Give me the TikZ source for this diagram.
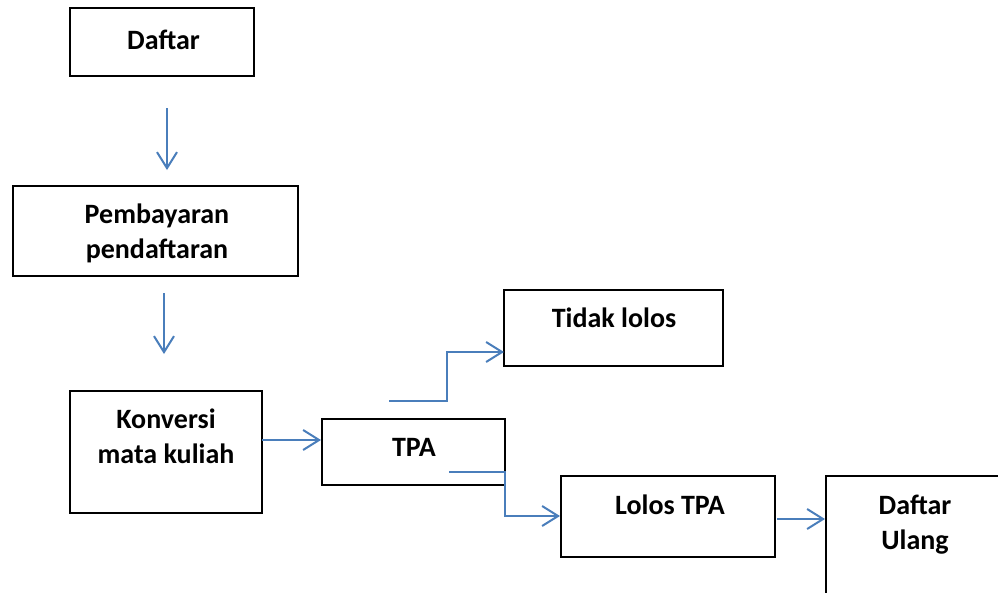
\documentclass[tikz,border=0pt]{standalone}
\usepackage{fontspec}
\setmainfont{Carlito}
\usetikzlibrary{arrows.meta}
\definecolor{linkblue}{RGB}{74,126,187}
\begin{document}
\begin{tikzpicture}[x=1pt,y=-1pt,
  box/.style={draw=black,line width=1.4pt,inner sep=0pt},
  lbl/.style={font=\fontsize{28}{35}\selectfont\bfseries,align=center,inner sep=0pt},
  flow/.style={draw=linkblue,line width=2pt,-{Straight Barb[length=16pt,width=20pt,line width=2pt]}}]
\useasboundingbox (0,0) rectangle (998,592);
\clip (0,0) rectangle (998,592);
% boxes
\draw[box] (70,8) rectangle (254,76);
\node[lbl] (daftar) at (163.5,40) {Daftar};
\draw[box] (13,186) rectangle (298,276);
\node[lbl] (bayar) at (157,233) {Pembayaran\\pendaftaran};
\draw[box] (70,391) rectangle (262,513);
\node[lbl] (konv) at (166,436) {Konversi\\mata kuliah};
\draw[box] (322,419) rectangle (505,485);
\node[lbl] (tpa) at (414,447) {TPA};
\draw[box] (504,290) rectangle (723,366);
\node[lbl] (tidak) at (614,318) {Tidak lolos};
\draw[box] (561,476) rectangle (775,557);
\node[lbl] (lolos) at (670,505) {Lolos TPA};
\draw[box] (826,610) -- (826,476) -- (1010,476);
\node[lbl] (ulang) at (915,525) {Daftar\\Ulang};
% connector coordinates
\coordinate (a1s) at (167,108); \coordinate (a1e) at (167,170);
\coordinate (a2s) at (164,293); \coordinate (a2e) at (164,354);
\coordinate (a3s) at (262,440); \coordinate (a3e) at (321,440);
\coordinate (a4s) at (389,401); \coordinate (a4e) at (504,352);
\coordinate (a5s) at (449,472); \coordinate (a5e) at (560,516);
\coordinate (a6s) at (777,519); \coordinate (a6e) at (825,519);
% connectors
\draw[flow] (a1s) -- (a1e);
\draw[flow] (a2s) -- (a2e);
\draw[flow] (a3s) -- (a3e);
\draw[flow] (a4s) -- (447,401) -- (447,352) -- (a4e);
\draw[flow] (a5s) -- (505,472) -- (505,516) -- (a5e);
\draw[flow] (a6s) -- (a6e);
\end{tikzpicture}
\end{document}
